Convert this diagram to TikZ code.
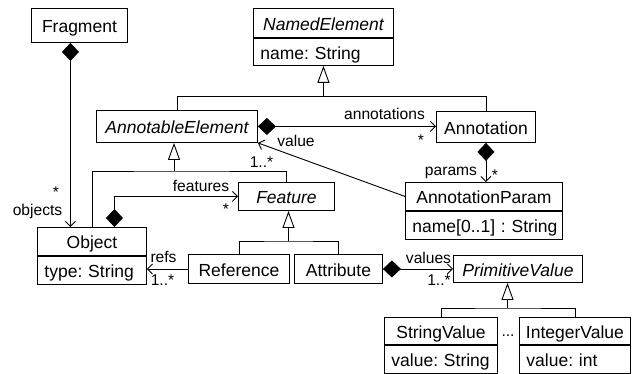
\documentclass[tikz,border=0pt]{standalone}
\usepackage{fontspec}
\setmainfont{Liberation Sans}
\usetikzlibrary{arrows.meta}
\frenchspacing

\tikzset{
    cls/.style={draw, line width=.9pt, anchor=north west, inner sep=0pt,
        text height=18pt, text depth=3pt, font=\fontsize{17.5}{21}\selectfont},
    attr/.style={cls, align=left, inner xsep=7pt, text width=#1},
    lbl/.style={anchor=base, inner sep=0pt, font=\fontsize{15.6}{18}\selectfont},
    rel/.style={line width=.9pt},
    comp/.style={rel, {Diamond[length=18pt,width=17pt]}-{Straight Barb[length=5pt,width=10pt]}},
    nav/.style={rel, -{Straight Barb[length=5pt,width=10pt]}},
    gen/.style={rel, -{Triangle[open,length=17pt,width=12pt]}}
}

\begin{document}
\begin{tikzpicture}[x=1pt,y=-1pt]
    \useasboundingbox (0,0) rectangle (636,373);

    % Классы
    \node[cls, minimum width=96pt, minimum height=34pt] (frag) at (31,8) {Fragment};
    \node[cls, minimum width=140pt, minimum height=29pt] (ne) at (253,8) {\itshape NamedElement};
    \node[attr=126pt, minimum height=27pt] (nea) at (ne.south west) {name:~String};
    \node[cls, minimum width=161pt, minimum height=32pt] (ae) at (96,110) {\itshape AnnotableElement};
    \node[cls, minimum width=99pt, minimum height=31pt] (ann) at (436,111) {Annotation};
    \node[cls, minimum width=157pt, minimum height=28pt] (ap) at (405,182) {AnnotationParam};
    \node[attr=143pt, minimum height=28pt] (apa) at (ap.south west) {name[0..1]~:~String};
    \node[cls, minimum width=96pt, minimum height=28pt] (feat) at (238,182) {\itshape Feature};
    \node[cls, minimum width=109pt, minimum height=28pt] (obj) at (37,227) {Object};
    \node[attr=95pt, minimum height=28pt] (obja) at (obj.south west) {type:~String};
    \node[cls, minimum width=101pt, minimum height=29pt] (ref) at (188,254) {Reference};
    \node[cls, minimum width=88pt, minimum height=29pt] (att) at (294,254) {Attribute};
    \node[cls, minimum width=129pt, minimum height=27pt] (pv) at (453,255) {\itshape PrimitiveValue};
    \node[cls, minimum width=113pt, minimum height=27pt] (sv) at (384,317) {StringValue};
    \node[attr=99pt, minimum height=28pt] (sva) at (sv.south west) {value:~String};
    \node[cls, minimum width=111pt, minimum height=27pt] (iv) at (519,317) {IntegerValue};
    \node[attr=97pt, minimum height=28pt] (iva) at (iv.south west) {value:~int};
    \node[lbl] (dots) at (508,336) {...};

    % Наследование
    \coordinate (nej) at ([yshift=14pt]ae.north);
    \draw[rel] (ae.north) -- (nej) -| (ann.north);
    \draw[gen] (nej -| nea.south) -- (nea.south);
    \coordinate (aej) at (174,171);
    \draw[rel] (obj.north) |- (aej) -| (feat.north);
    \draw[gen] (aej) -- (aej |- ae.south);
    \coordinate (fj) at (288.5,241);
    \draw[rel] (ref.north) |- (fj) -| (att.north);
    \draw[gen] (fj) -- (fj |- feat.south);
    \coordinate (pvj) at (507.5,308);
    \draw[rel] (sv.north) |- (pvj) -| (iv.north);
    \draw[gen] (pvj) -- (pvj |- pv.south);

    % Ассоциации
    \coordinate (fs) at ([xshift=-9pt]frag.south);
    \draw[comp] (fs) -- (fs |- obj.north);
    \draw[comp] (ae.east) -- (ae.east -| ann.west);
    \draw[comp] (ann.south) -- (ann.south |- ap.north);
    \draw[nav] (ap.west) -- (ae.south east);
    \draw[comp] ([xshift=22.5pt]obj.north) |- (feat.west);
    \draw[nav] (ref.west) -- (ref.west -| obja.east);
    \draw[comp] (att.east) -- (pv.west);

    % Подписи ролей
    \node[lbl] (lobj) at (37.5,215) {objects};
    \node[lbl] (lobjm) at (56,197.5) {*};
    \node[lbl] (lann) at (384.5,119) {annotations};
    \node[lbl] (lannm) at (421,145) {*};
    \node[lbl] (lval) at (296,146) {value};
    \node[lbl] (lvalm) at (261.5,167) {1..*};
    \node[lbl] (lpar) at (451,175) {params};
    \node[lbl] (lparm) at (495,180) {*};
    \node[lbl] (lfeat) at (201,191) {features};
    \node[lbl] (lfeatm) at (226,214) {*};
    \node[lbl] (lrefs) at (163.5,262) {refs};
    \node[lbl] (lrefsm) at (162.5,285) {1..*};
    \node[lbl] (lvals) at (428.5,263) {values};
    \node[lbl] (lvalsm) at (439,285) {1..*};
\end{tikzpicture}
\end{document}
